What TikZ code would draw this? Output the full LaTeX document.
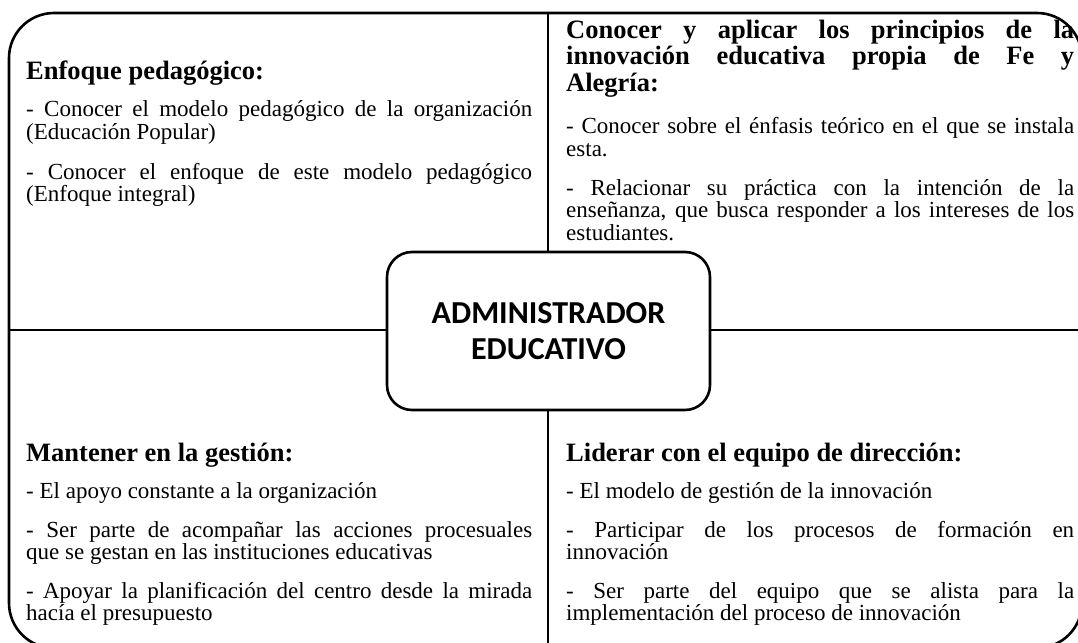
\documentclass[tikz,border=0pt]{standalone}
\usepackage{fontspec}
\setmainfont{Liberation Serif}
\newfontfamily\carlito{Carlito}
\begin{document}
\begin{tikzpicture}[x=1pt,y=-1pt,
  frame/.style={line width=2.6pt,black},
  body/.style={anchor=base west,inner sep=0pt,font=\fontsize{23}{25}\selectfont},
  head/.style={anchor=base west,inner sep=0pt,font=\fontsize{26.5}{26}\selectfont\bfseries},
  centre/.style={draw,line width=2.6pt,fill=white,rounded corners=25pt,minimum width=323pt,minimum height=158pt,align=center,inner sep=0pt,font=\fontsize{32}{36}\selectfont\carlito\bfseries}
]
\useasboundingbox (0,0) rectangle (1078,642);
\begin{scope}
\clip (0,0) rectangle (1078,642);
\draw[frame,rounded corners=45pt] (9,13) rectangle (1082,648);
\coordinate (hl) at (9,330);
\coordinate (hr) at (1082,330);
\coordinate (vt) at (548,13);
\coordinate (vb) at (548,648);
\draw[frame] (hl) -- (hr);
\draw[frame] (vt) -- (vb);
\end{scope}
\node[centre] (c) at (548.5,331) {ADMINISTRADOR\\EDUCATIVO};

% top left
\def\lw{506pt}
\node[head] (tlh) at (26,79) {Enfoque pedagógico:};
\node[body] (tl1) at (26,116) {\makebox[\lw][s]{- Conocer el modelo pedagógico de la organización}};
\node[body] (tl2) at (26,139) {(Educación Popular)};
\node[body] (tl3) at (26,179) {\makebox[\lw][s]{- Conocer el enfoque de este modelo pedagógico}};
\node[body] (tl4) at (26,201) {(Enfoque integral)};

% top right
\def\rw{508pt}
\node[head] (trh) at (566,39) {\vtop{\hsize=\rw\baselineskip=25pt\lineskiplimit=-50pt\lineskip=0pt
  \noindent\makebox[\rw][s]{Conocer y aplicar los principios de la}\par
  \noindent\makebox[\rw][s]{innovación educativa propia de Fe y}\par
  \vskip2pt\noindent Alegría:}};
\node[body] (tr1) at (566,133) {\makebox[\rw][s]{- Conocer sobre el énfasis teórico en el que se instala}};
\node[body] (tr2) at (566,156) {esta.};
\node[body] (tr3) at (566,195) {\makebox[\rw][s]{- Relacionar su práctica con la intención de la}};
\node[body] (tr4) at (566,217) {\makebox[\rw][s]{enseñanza, que busca responder a los intereses de los}};
\node[body] (tr5) at (566,240) {estudiantes.};

% bottom left
\node[head] (blh) at (26,461) {Mantener en la gestión:};
\node[body] (bl1) at (26,498) {- El apoyo constante a la organización};
\node[body] (bl2) at (26,537) {\makebox[\lw][s]{- Ser parte de acompañar las acciones procesuales}};
\node[body] (bl3) at (26,559) {que se gestan en las instituciones educativas};
\node[body] (bl4) at (26,598) {\makebox[\lw][s]{- Apoyar la planificación del centro desde la mirada}};
\node[body] (bl5) at (26,620) {hacía el presupuesto};

% bottom right
\node[head] (brh) at (566,461) {Liderar con el equipo de dirección:};
\node[body] (br1) at (566,498) {- El modelo de gestión de la innovación};
\node[body] (br2) at (566,537) {\makebox[\rw][s]{- Participar de los procesos de formación en}};
\node[body] (br3) at (566,559) {innovación};
\node[body] (br4) at (566,598) {\makebox[\rw][s]{- Ser parte del equipo que se alista para la}};
\node[body] (br5) at (566,620) {implementación del proceso de innovación};
\end{tikzpicture}
\end{document}
